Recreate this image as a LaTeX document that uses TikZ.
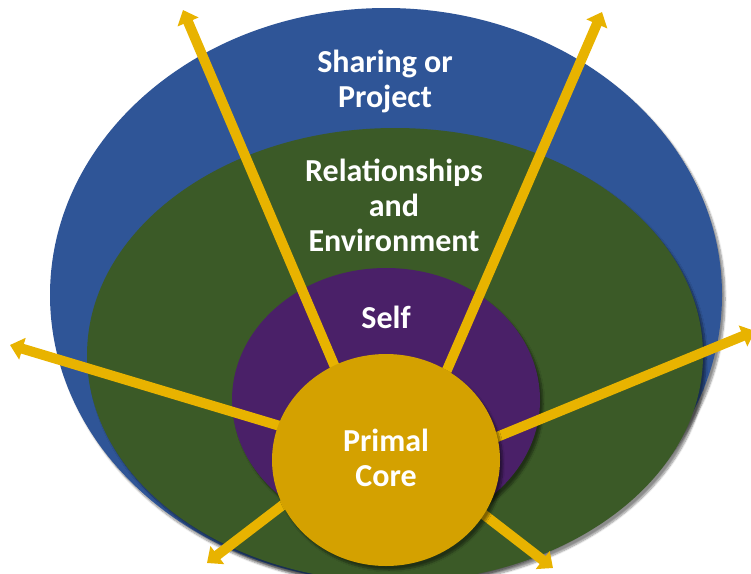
\documentclass[tikz,border=0pt]{standalone}
\usepackage{fontspec}
\setmainfont{Carlito}
\usetikzlibrary{shapes.geometric,arrows.meta,shadows.blur}

\definecolor{ringblue}{HTML}{2F5597}
\definecolor{ringgreen}{HTML}{3B5A27}
\definecolor{ringpurple}{HTML}{4A2068}
\definecolor{coregold}{HTML}{D4A100}
\definecolor{raygold}{HTML}{E8B300}

\tikzset{
  ring/.style={ellipse, inner sep=0pt, draw=none, fill=#1,
    blur shadow={shadow xshift=3pt, shadow yshift=-4pt, shadow blur steps=8, shadow opacity=45}},
  label/.style={font=\bfseries\fontsize{32}{35}\selectfont, text=white, align=center},
  ray/.style={draw=raygold, line width=10pt, -{Triangle[width=22pt,length=13pt]}}
}

\begin{document}
\begin{tikzpicture}[x=1pt, y=-1pt]
  \clip (0,0) rectangle (751,573);

  % nested rings, outermost first
  \node[ring=ringblue, minimum width=672pt, minimum height=574pt] (share) at (386,295) {};
  \node[ring=ringgreen, minimum width=616pt, minimum height=454pt] (relate) at (395,355) {};
  \node[ring=ringpurple, minimum width=308pt, minimum height=264pt] (self) at (386,400) {};

  % ray start points, hidden under the core
  \coordinate (sTL) at (346,393);
  \coordinate (sTR) at (437,393);
  \coordinate (sL)  at (300,432);
  \coordinate (sR)  at (475,446);
  \coordinate (sBL) at (305,488);
  \coordinate (sBR) at (465,500);
  % ray tips
  \coordinate (tTL) at (183,10);
  \coordinate (tTR) at (602,12);
  \coordinate (tL)  at (10,345);
  \coordinate (tR)  at (755,331);
  \coordinate (tBL) at (207,563);
  \coordinate (tBR) at (553,568);

  \draw[ray] (sTL) -- (tTL);
  \draw[ray] (sTR) -- (tTR);
  \draw[ray] (sL)  -- (tL);
  \draw[ray] (sR)  -- (tR);
  \draw[ray] (sBL) -- (tBL);
  \draw[ray] (sBR) -- (tBR);

  % core
  \node[ring=coregold, minimum width=228pt, minimum height=212pt] (core) at (386,460) {};

  % labels
  \node[label] (shareText) at (385,81) {Sharing or\\Project};
  \node[label] (relateText) at (394,205) {Relationships\\and\\Environment};
  \node[label] (selfText) at (386,317) {Self};
  \node[label] (coreText) at (386,458) {Primal\\Core};
\end{tikzpicture}
\end{document}
